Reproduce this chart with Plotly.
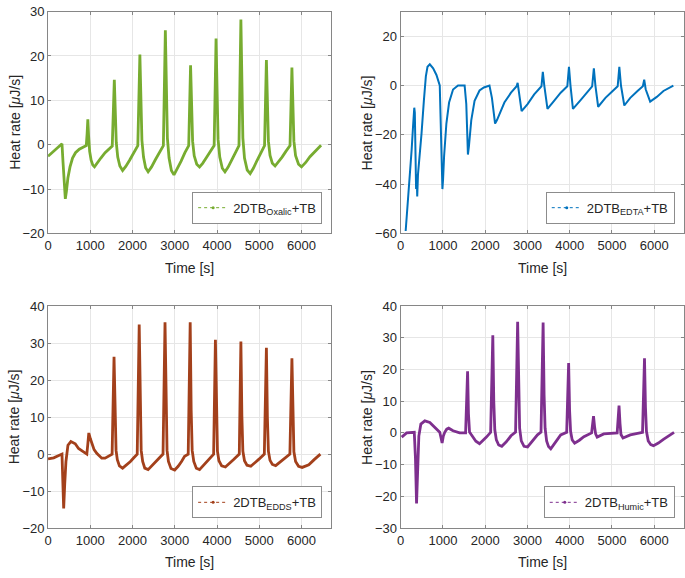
import plotly.graph_objects as go

# ---------------- data ----------------
t_oxalic = [0, 100, 200, 330, 355, 380, 409, 435, 470, 520, 580, 650, 740, 840, 905,
            925, 942, 960, 985, 1020, 1060, 1099, 1160, 1250, 1350, 1450, 1520,
            1569, 1590, 1615, 1650, 1700, 1765, 1840, 1930, 2030, 2125,
            2174, 2198, 2222, 2260, 2310, 2369, 2450, 2540, 2640, 2730,
            2777, 2800, 2825, 2865, 2920, 2981, 3060, 3150, 3240, 3330,
            3374, 3398, 3422, 3460, 3520, 3586, 3660, 3750, 3840, 3932,
            3977, 4000, 4025, 4065, 4125, 4188, 4260, 4350, 4440, 4520,
            4565, 4588, 4612, 4650, 4715, 4785, 4860, 4950, 5040, 5125,
            5169, 5192, 5216, 5255, 5310, 5374, 5450, 5540, 5630, 5728,
            5773, 5796, 5820, 5860, 5930, 6000, 6100, 6200, 6330, 6463]
v_oxalic = [-2.6, -1.8, -0.9, 0.2, -4.0, -9.5, -12.2, -10.5, -7.5, -5.0, -3.0, -1.8, -1.0, -0.5, -0.2,
            2.5, 5.7, 2.0, -1.5, -3.5, -4.6, -5.0, -4.3, -3.0, -1.8, -0.8, -0.3,
            14.6, 6.0, 0.5, -2.8, -4.8, -5.8, -4.9, -3.5, -1.7, -0.2,
            20.3, 8.0, 1.0, -2.8, -5.2, -6.1, -5.0, -3.4, -1.6, -0.2,
            25.8, 10.0, 1.5, -3.0, -5.8, -6.8, -5.5, -3.7, -1.8, -0.2,
            17.9, 7.0, 0.8, -2.5, -4.4, -5.0, -4.2, -2.9, -1.5, -0.2,
            23.9, 9.5, 1.2, -2.8, -5.3, -6.1, -5.1, -3.4, -1.6, -0.2,
            28.2, 11.0, 1.5, -3.0, -5.7, -6.5, -5.3, -3.5, -1.7, -0.2,
            19.1, 7.5, 0.8, -2.4, -4.2, -4.8, -4.0, -2.8, -1.5, -0.2,
            17.4, 7.0, 0.8, -2.5, -4.4, -5.0, -4.0, -2.7, -1.3, -0.1]

t_edta = [118, 170, 220, 260, 295, 322, 335, 350, 365, 378, 392, 410, 440, 470, 494, 549, 596, 635, 690,
          769, 847, 925, 949, 968, 988, 1004, 1028, 1082, 1146, 1240, 1357, 1514,
          1553, 1576, 1592, 1616, 1671, 1749, 1867, 1970, 2063, 2102,
          2160, 2204, 2235, 2280, 2337, 2455, 2612, 2745, 2769, 2800, 2863,
          3004, 3161, 3333, 3365, 3400, 3475, 3631, 3788, 3945, 3984, 4020, 4078,
          4259, 4400, 4533, 4573, 4610, 4675, 4847, 5000, 5137, 5176, 5215, 5294,
          5435, 5600, 5733, 5765, 5800, 5906, 6063, 6220, 6455]
v_edta = [-59, -48, -37, -26, -16, -9, -11, -28, -42, -36, -45, -36, -31, -24, -19.4, -6.2, 3.7, 7.6, 8.6,
          7.0, 4.3, 0.0, -14, -30, -42, -38, -28.6, -15.4, -6.9, -1.6, 0.0, 0.0,
          -7.5, -19.4, -28, -24.6, -14.1, -6.2, -2.0, -0.8, -0.3, 0.0,
          -5.0, -11.5, -15.4, -14.0, -11.5, -6.9, -2.9, -0.3, 1.1, -3.0, -10.4,
          -7.5, -3.6, -0.3, 5.6, 0.0, -9.5, -6.2, -2.9, -0.3, 7.6, 0.0, -9.5,
          -5.9, -2.8, -0.3, 7.0, 0.0, -8.6, -5.0, -2.5, -0.3, 7.6, 0.0, -8.1,
          -5.0, -2.3, -0.3, 2.4, -1.5, -6.5, -4.6, -2.2, 0.0]

t_edds = [0, 134, 330, 350, 370, 395, 424, 471, 541, 644, 722, 840, 918, 940, 965, 1000, 1035, 1090, 1153,
          1271, 1350, 1430, 1517,
          1562, 1585, 1610, 1640, 1690, 1765, 1850, 1950, 2030, 2111,
          2158, 2181, 2205, 2240, 2290, 2369, 2450, 2530, 2605, 2722,
          2769, 2792, 2817, 2850, 2910, 2998, 3080, 3160, 3233, 3318,
          3365, 3388, 3412, 3450, 3510, 3586, 3670, 3760, 3835, 3920,
          3962, 3985, 4010, 4045, 4110, 4198, 4290, 4400, 4527,
          4565, 4588, 4612, 4650, 4710, 4800, 4900, 5000, 5120,
          5169, 5192, 5216, 5255, 5310, 5388, 5480, 5600, 5725,
          5773, 5796, 5820, 5860, 5930, 6016, 6100, 6173, 6300, 6447]
v_edds = [-1.3, -1.0, 0.0, -6.0, -14.7, -8.0, -2.0, 2.4, 3.4, 2.8, 1.5, 0.6, 0.0, 2.5, 5.7, 4.2, 2.8, 1.2, 0.2,
          -1.1, -1.1, -0.5, 0.0,
          26.3, 9.0, 1.0, -1.5, -3.2, -3.8, -3.0, -2.0, -1.0, 0.0,
          35.0, 12.0, 1.0, -2.0, -3.8, -4.2, -3.2, -2.2, -1.4, 0.0,
          35.6, 12.0, 1.0, -2.0, -3.9, -4.3, -3.3, -2.0, -0.6, 0.0,
          35.6, 12.0, 1.0, -2.0, -3.8, -4.2, -3.2, -2.0, -1.0, 0.0,
          30.9, 10.5, 0.8, -1.8, -3.2, -3.5, -2.6, -1.4, 0.0,
          30.4, 10.5, 0.8, -1.8, -3.0, -3.3, -2.4, -1.3, 0.0,
          28.7, 10.0, 0.8, -1.7, -2.8, -3.1, -2.3, -1.2, 0.0,
          25.9, 9.0, 0.6, -2.0, -3.3, -3.6, -3.3, -2.9, -1.5, 0.0]

t_humic = [24, 141, 322, 350, 376, 400, 430, 478, 572, 690, 808, 925, 955, 981, 1010, 1043, 1090, 1137,
           1240, 1396, 1537,
           1584, 1605, 1630, 1670, 1710, 1780, 1867, 1950, 2024, 2130,
           2181, 2204, 2228, 2265, 2320, 2393, 2500, 2612, 2720,
           2769, 2792, 2816, 2855, 2920, 3004, 3120, 3239, 3322,
           3372, 3395, 3419, 3455, 3500, 3553, 3670, 3788, 3930,
           3976, 3999, 4022, 4060, 4118, 4230, 4337, 4520,
           4565, 4590, 4615, 4651, 4720, 4808, 5125,
           5169, 5192, 5215, 5263, 5350, 5435, 5725,
           5772, 5795, 5818, 5860, 5920, 5984, 6100, 6220, 6340, 6471]
v_humic = [-1.3, 0.0, 0.2, -8.0, -22.2, -10.0, -1.0, 2.8, 3.8, 3.3, 1.7, 0.2, -1.5, -3.2, -1.0, 0.2, 1.2, 1.5,
           0.7, 0.0, 0.0,
           19.4, 6.0, 0.3, -0.5, -1.4, -2.6, -3.4, -2.5, -1.4, 0.2,
           30.8, 10.0, 1.0, -2.2, -3.8, -4.2, -2.8, -0.9, 0.3,
           35.0, 12.0, 1.5, -2.5, -4.2, -4.4, -2.5, -0.6, 0.3,
           34.8, 12.0, 1.5, -2.5, -4.3, -5.0, -2.8, -0.6, 0.2,
           22.0, 7.0, 0.5, -2.2, -3.2, -2.3, -1.2, 0.0,
           5.3, 2.0, -0.3, -1.3, -0.8, -0.3, 0.0,
           8.6, 3.0, -0.5, -1.6, -1.1, -0.6, 0.2,
           23.5, 8.0, 0.5, -2.5, -3.7, -4.0, -3.2, -2.0, -0.9, 0.2]

series_names = ["2DTB<sub>Oxalic</sub>+TB", "2DTB<sub>EDTA</sub>+TB",
                "2DTB<sub>EDDS</sub>+TB", "2DTB<sub>Humic</sub>+TB"]
x_ticks = [0, 1000, 2000, 3000, 4000, 5000, 6000]
y_ticks = [[-20, -10, 0, 10, 20, 30], [-60, -40, -20, 0, 20],
           [-20, -10, 0, 10, 20, 30, 40], [-30, -20, -10, 0, 10, 20, 30, 40]]
y_ranges = [[-20, 30], [-60, 30], [-20, 40], [-30, 40]]
x_range = [0, 6700]

colors = ["#77AC30", "#0072BD", "#A3401B", "#7E2F8E"]
widths = [2.8, 2.0, 2.8, 2.8]
data_t = [t_oxalic, t_edta, t_edds, t_humic]
data_v = [v_oxalic, v_edta, v_edds, v_humic]

# ---------------- layout geometry (pixels) ----------------
W, H = 685, 578
xpix = [(44.3, 329.0), (399.0, 683.7), (44.3, 329.0), (399.0, 683.7)]
ypix = [(4.7, 232.5), (4.7, 232.5), (307.0, 535.0), (307.0, 535.0)]

FONT = "Liberation Sans, Arial, Helvetica, sans-serif"
TXT = "#262626"
AX = "#868686"

fig = go.Figure()
layout = dict(width=W, height=H, autosize=False,
              margin=dict(l=0, r=0, t=0, b=0),
              paper_bgcolor="white", plot_bgcolor="white",
              font=dict(family=FONT, size=13, color=TXT),
              annotations=[])

for i in range(4):
    k = "" if i == 0 else str(i + 1)
    x0, x1 = xpix[i]
    yt, yb = ypix[i]
    xa = dict(domain=[x0 / W, x1 / W], range=x_range, tickvals=x_ticks,
              showline=True, linecolor=AX, linewidth=1, mirror="ticks",
              ticks="inside", ticklen=3, tickcolor=AX,
              showgrid=True, gridcolor="#e6e6e6", gridwidth=1, zeroline=False,
              tickfont=dict(size=13, color=TXT), anchor="y" + k)
    ya = dict(domain=[1 - yb / H, 1 - yt / H], range=y_ranges[i], tickvals=y_ticks[i],
              showline=True, linecolor=AX, linewidth=1, mirror="ticks",
              ticks="inside", ticklen=3, tickcolor=AX,
              showgrid=True, gridcolor="#e6e6e6", gridwidth=1, zeroline=False,
              tickfont=dict(size=13, color=TXT), anchor="x" + k)
    layout["xaxis" + k] = xa
    layout["yaxis" + k] = ya

    fig.add_trace(go.Scatter(x=data_t[i], y=data_v[i], mode="lines",
                             line=dict(color=colors[i], width=widths[i]),
                             xaxis="x" + k, yaxis="y" + k, showlegend=False,
                             hoverinfo="skip"))
    # legend-only entry (thin dotted line with dot marker, as in the original)
    lg = "legend" + k
    fig.add_trace(go.Scatter(x=[None], y=[None], mode="lines+markers",
                             name=series_names[i],
                             line=dict(color=colors[i], width=1, dash="dot"),
                             marker=dict(color=colors[i], size=3),
                             xaxis="x" + k, yaxis="y" + k, legend=lg))
    layout[lg] = dict(x=(x1 - 9) / W, y=1 - (yb - 10) / H, xanchor="right", yanchor="bottom",
                      bgcolor="white", bordercolor="#8c8c8c", borderwidth=1,
                      font=dict(size=13, color=TXT), itemwidth=30,
                      tracegroupgap=0)

    # axis titles
    layout["annotations"].append(dict(
        text="Time [s]", xref="paper", yref="paper",
        x=(x0 + x1) / 2 / W, y=1 - (yb + 35) / H, xanchor="center", yanchor="middle",
        showarrow=False, font=dict(size=14, color=TXT)))
    layout["annotations"].append(dict(
        text="Heat rate [<i>μ</i>J/s]", xref="paper", yref="paper",
        x=(x0 - 34) / W, y=1 - (yt + yb) / 2 / H, xanchor="center", yanchor="middle",
        textangle=-90, showarrow=False, font=dict(size=14, color=TXT)))

fig.update_layout(**layout)
fig.write_html("out.html", config={"displayModeBar": False},
               post_script="document.body.style.margin='0';document.body.style.overflow='hidden';")
